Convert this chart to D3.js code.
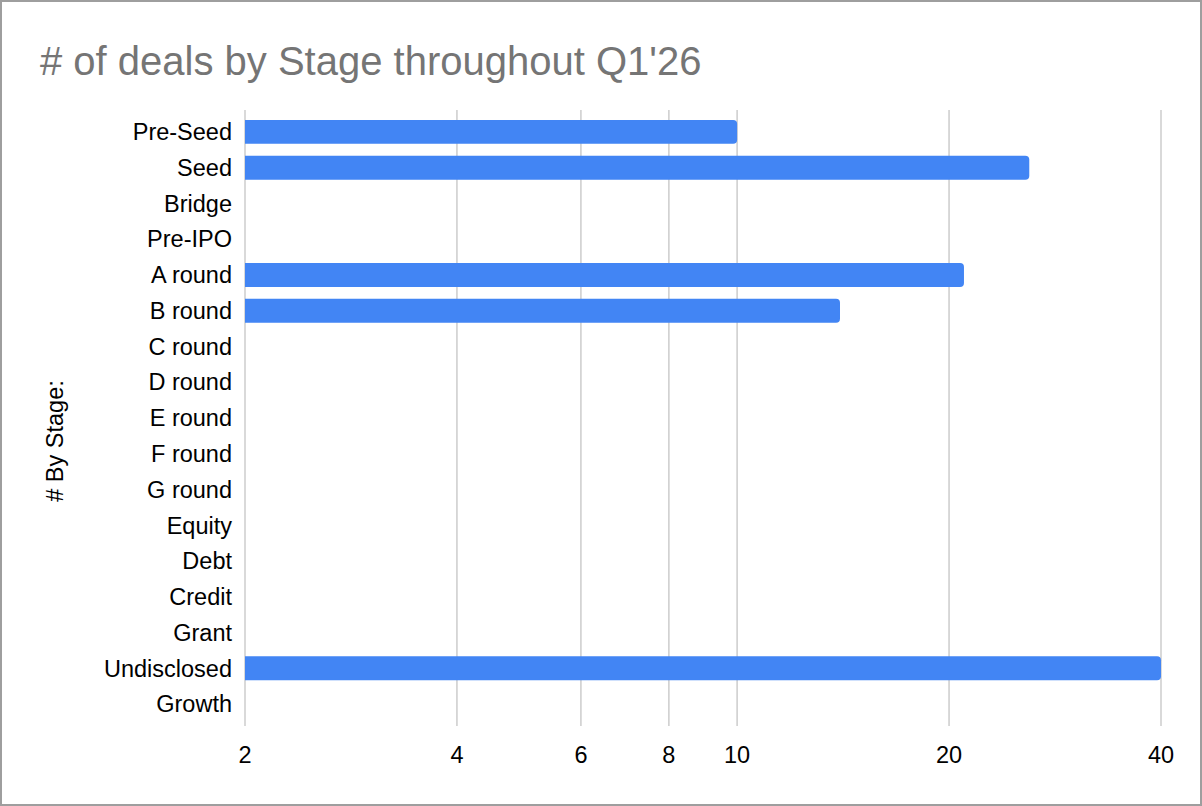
<!DOCTYPE html>
<html>
<head>
<meta charset="utf-8">
<script src="https://cdn.jsdelivr.net/npm/d3@7"></script>
<style>
  html, body { margin: 0; padding: 0; background: #fff; }
  svg { display: block; font-family: Arial, "Liberation Sans", sans-serif; }
</style>
</head>
<body>
<svg id="chart" width="1202" height="806"></svg>
<script>
// Deals by stage, Q1'26 (log x axis)
const stages = ['Pre-Seed', 'Seed', 'Bridge', 'Pre-IPO', 'A round', 'B round', 'C round',
  'D round', 'E round', 'F round', 'G round', 'Equity', 'Debt', 'Credit', 'Grant',
  'Undisclosed', 'Growth'];
const deals = [10, 26, 0, 0, 21, 14, 0, 0, 0, 0, 0, 0, 0, 0, 0, 40, 0];
const xTicks = [2, 4, 6, 8, 10, 20, 40];

const W = 1202, H = 806;
const svg = d3.select('#chart');

// frame
svg.append('rect')
  .attr('x', 1).attr('y', 1)
  .attr('width', W - 2).attr('height', H - 2)
  .attr('fill', '#fff')
  .attr('stroke', '#9e9e9e')
  .attr('stroke-width', 2);

// title
svg.append('text')
  .attr('x', 40).attr('y', 75)
  .attr('fill', '#757575')
  .attr('font-size', 40)
  .text("# of deals by Stage throughout Q1'26");

const x = d3.scaleLog().domain([2, 40]).range([245, 1161]);
const y = d3.scaleBand().domain(stages).range([114, 722]).paddingInner(0.33).paddingOuter(0.165);

const gridTop = 110, gridBottom = 726;

// gridlines
svg.append('g').selectAll('line')
  .data(xTicks)
  .join('line')
  .attr('x1', d => x(d)).attr('x2', d => x(d))
  .attr('y1', gridTop).attr('y2', gridBottom)
  .attr('stroke', '#cccccc')
  .attr('stroke-width', 1.5);

// bars (right corners rounded)
const r = 4;
svg.append('g').selectAll('path')
  .data(stages.map((s, i) => ({ stage: s, value: deals[i] })).filter(d => d.value > 0))
  .join('path')
  .attr('fill', '#4285f4')
  .attr('d', d => {
    const x0 = x(2), x1 = x(d.value);
    const y0 = y(d.stage), h = y.bandwidth();
    return `M${x0},${y0}H${x1 - r}Q${x1},${y0} ${x1},${y0 + r}V${y0 + h - r}` +
      `Q${x1},${y0 + h} ${x1 - r},${y0 + h}H${x0}Z`;
  });

// category labels
svg.append('g').selectAll('text')
  .data(stages)
  .join('text')
  .attr('x', 232)
  .attr('y', d => y(d) + y.bandwidth() / 2)
  .attr('dy', '0.35em')
  .attr('text-anchor', 'end')
  .attr('font-size', 23.5)
  .attr('fill', '#000')
  .text(d => d);

// x tick labels
svg.append('g').selectAll('text')
  .data(xTicks)
  .join('text')
  .attr('x', d => x(d))
  .attr('y', 755)
  .attr('dy', '0.35em')
  .attr('text-anchor', 'middle')
  .attr('font-size', 23.5)
  .attr('fill', '#000')
  .text(d => d);

// y axis title
svg.append('text')
  .attr('transform', 'translate(55,441) rotate(-90)')
  .attr('dy', '0.35em')
  .attr('text-anchor', 'middle')
  .attr('font-size', 23.5)
  .attr('fill', '#000')
  .text('# By Stage:');
</script>
</body>
</html>
